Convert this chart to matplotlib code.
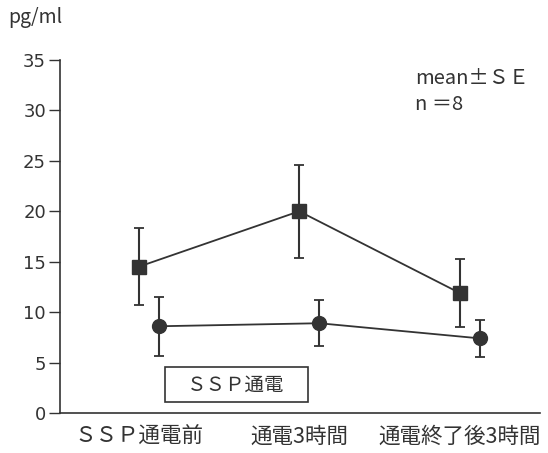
import numpy as np
import matplotlib.pyplot as plt
from matplotlib.patches import Rectangle

plt.rcParams['font.family'] = ['Noto Sans CJK JP', 'DejaVu Sans']

categories = ["ＳＳＰ通電前", "通電3時間", "通電終了後3時間"]
# SSP stimulation group (squares)
ssp_mean = [14.5, 20.0, 11.9]
ssp_se = [3.8, 4.6, 3.4]
# control group (circles)
ctl_mean = [8.6, 8.9, 7.4]
ctl_se = [2.9, 2.3, 1.8]
yticks = [0, 5, 10, 15, 20, 25, 30, 35]

ink = '#333333'

fig = plt.figure(figsize=(5.48, 4.53), dpi=100)
ax = fig.add_axes([60/548, 40/453, 480/548, 353/453])

x = np.arange(len(categories))
off = 0.125

ax.errorbar(x, ssp_mean, yerr=ssp_se, color=ink, marker='s', markersize=10,
            linewidth=1.3, elinewidth=1.5, capsize=3.5, capthick=1.3)
ax.errorbar(x + off, ctl_mean, yerr=ctl_se, color=ink, marker='o', markersize=10,
            linewidth=1.3, elinewidth=1.5, capsize=3.5, capthick=1.3)

ax.set_xlim(-0.49, 2.5)
ax.set_ylim(0, 35)
ax.set_yticks(yticks)
ax.set_yticklabels([str(v) for v in yticks], family=['DejaVu Sans'], fontsize=13)
ax.set_xticks(x)
ax.set_xticklabels(categories, fontsize=15.5, color=ink)
ax.tick_params(axis='x', length=0, pad=9)
ax.tick_params(axis='y', length=8, width=1, colors=ink, pad=2)
for s in ['top', 'right']:
    ax.spines[s].set_visible(False)
for s in ['left', 'bottom']:
    ax.spines[s].set_color(ink)
    ax.spines[s].set_linewidth(1.2)

# label box
ax.add_patch(Rectangle((165/548, 51/453), 143/548, 35/453, transform=fig.transFigure,
                       fill=False, edgecolor=ink, linewidth=1.2, clip_on=False))
fig.text(236/548, 68/453, "ＳＳＰ通電", ha='center', va='center', fontsize=14, color=ink)

fig.text(8/548, 435/453, "pg/ml", ha='left', va='center', fontsize=14, color=ink)
fig.text(415/548, 375/453, "mean±ＳＥ", ha='left', va='center', fontsize=14.5, color=ink)
fig.text(415/548, 348/453, "n ＝8", ha='left', va='center', fontsize=14.5, color=ink)

plt.savefig("out.png", dpi=100)
